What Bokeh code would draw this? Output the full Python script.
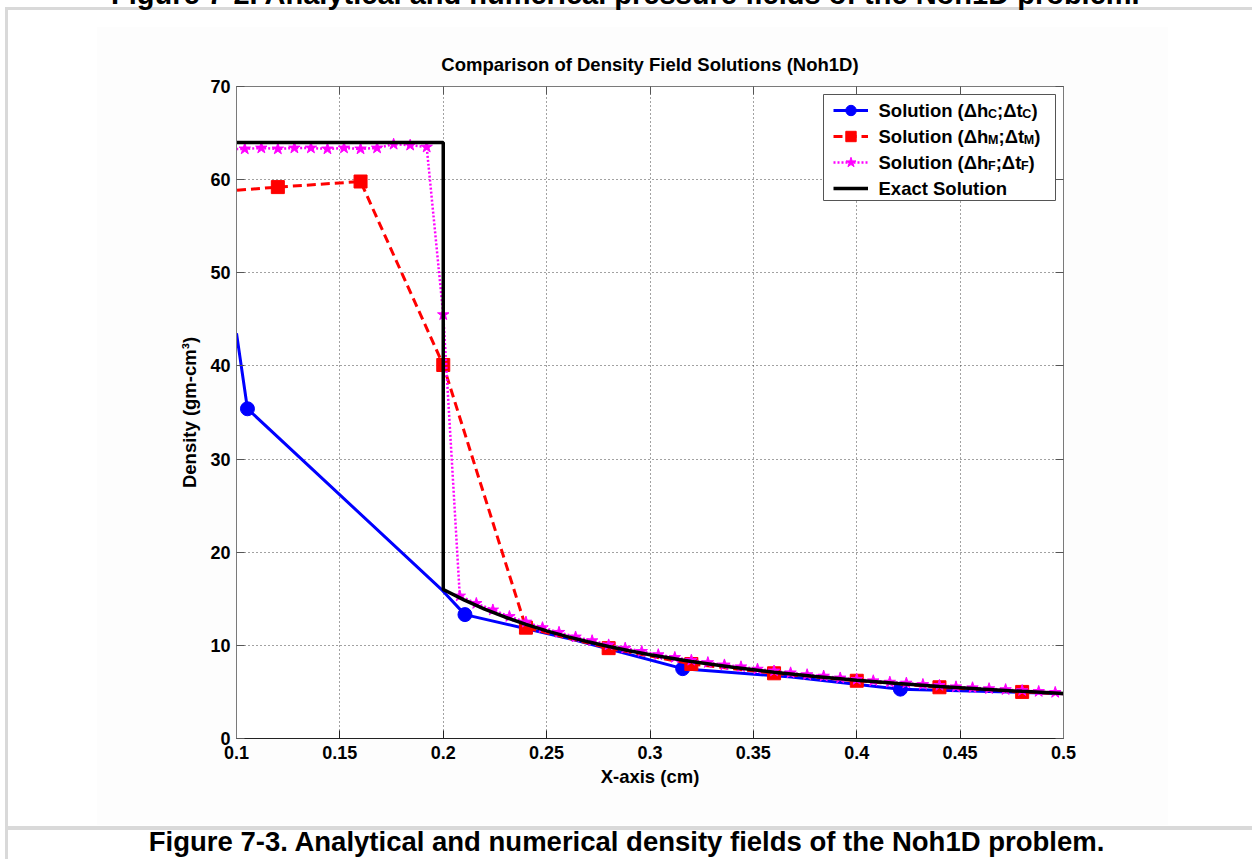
from bokeh.plotting import figure
from bokeh.models import (Range1d, FixedTicker, LinearAxis, Label, BoxAnnotation,
                          Legend, LegendItem, InlineStyleSheet)
from bokeh.embed import file_html
from bokeh.resources import INLINE

# ---------------- data ----------------
x_ticks = [0.1, 0.15, 0.2, 0.25, 0.3, 0.35, 0.4, 0.45, 0.5]
x_tick_labels = ["0.1", "0.15", "0.2", "0.25", "0.3", "0.35", "0.4", "0.45", "0.5"]
y_ticks = [0, 10, 20, 30, 40, 50, 60, 70]
y_tick_labels = ["0", "10", "20", "30", "40", "50", "60", "70"]

# coarse solution (blue, circles)
coarse_line_x = [0.1, 0.1053, 0.1996, 0.2105, 0.2632, 0.3158, 0.3684, 0.4211, 0.4737, 0.5]
coarse_line_y = [43.5, 35.4, 15.9, 13.3, 10.6, 7.5, 6.6, 5.3, 5.0, 4.8]
coarse_mark_x = [0.1053, 0.2105, 0.3158, 0.4211]
coarse_mark_y = [35.4, 13.3, 7.5, 5.3]

# medium solution (red, squares)
medium_x = [0.08, 0.12, 0.16, 0.20, 0.24, 0.28, 0.32, 0.36, 0.40, 0.44, 0.48, 0.52]
medium_y = [58.5, 59.2, 59.8, 40.1, 11.9, 9.7, 8.0, 7.0, 6.2, 5.5, 5.0, 4.6]

# fine solution (magenta, stars)
fine_x = [0.096, 0.104, 0.112, 0.120, 0.128, 0.136, 0.144, 0.152, 0.160, 0.168,
          0.176, 0.184, 0.192, 0.200, 0.208, 0.216, 0.224, 0.232, 0.240, 0.248,
          0.256, 0.264, 0.272, 0.280, 0.288, 0.296, 0.304, 0.312, 0.320, 0.328,
          0.336, 0.344, 0.352, 0.360, 0.368, 0.376, 0.384, 0.392, 0.400, 0.408,
          0.416, 0.424, 0.432, 0.440, 0.448, 0.456, 0.464, 0.472, 0.480, 0.488,
          0.496, 0.504]
fine_y = [63.3, 63.3, 63.4, 63.3, 63.4, 63.4, 63.3, 63.4, 63.3, 63.4,
          63.8, 63.7, 63.5, 45.5, 15.3, 14.5, 13.8, 13.1, 12.5, 11.9,
          11.4, 10.9, 10.5, 10.05, 9.7, 9.35, 9.0, 8.7, 8.4, 8.15,
          7.9, 7.7, 7.45, 7.25, 7.05, 6.85, 6.7, 6.5, 6.35, 6.2,
          6.05, 5.95, 5.8, 5.7, 5.55, 5.45, 5.35, 5.25, 5.15, 5.05,
          4.95, 4.85]

# exact solution (black)
exact_x = [0.1, 0.2, 0.2, 0.21, 0.22, 0.23, 0.24, 0.25, 0.26, 0.27, 0.28, 0.29,
           0.30, 0.32, 0.34, 0.36, 0.38, 0.40, 0.42, 0.44, 0.46, 0.48, 0.50]
exact_y = [64.0, 64.0, 16.0, 14.88, 13.89, 13.02, 12.25, 11.56, 10.94, 10.38, 9.88, 9.42,
           9.00, 8.27, 7.64, 7.11, 6.65, 6.25, 5.90, 5.59, 5.31, 5.06, 4.84]

series_labels = [("Solution (\u0394h", "C", ";\u0394t", "C", ")"),
                 ("Solution (\u0394h", "M", ";\u0394t", "M", ")"),
                 ("Solution (\u0394h", "F", ";\u0394t", "F", ")"),
                 ("Exact Solution",)]

title_text = "Comparison of Density Field Solutions (Noh1D)"
x_label = "X-axis (cm)"
y_label = "Density (gm-cm\u00b3)"
caption_top = "Figure 7-2. Analytical and numerical pressure fields of the Noh1D problem."
caption_bottom = "Figure 7-3. Analytical and numerical density fields of the Noh1D problem."

# ---------------- layout ----------------
W, H = 1252, 859
EX = 27                      # canvas starts EX px above the window (top caption is cut)
FL, FR, FT, FB = 236, 1063, 86, 738   # frame edges in window pixels
FONT = "Liberation Sans"
CAP_SHIFT = "\u00a0" * 6     # centres the captions on the page rather than on the frame

def sx(cx):
    return cx - FL

def sy(cy):
    return FB - cy

p = figure(width=W, height=H + EX, output_backend="svg", toolbar_location=None,
           x_range=Range1d(0.1, 0.5), y_range=Range1d(0, 70),
           min_border_left=FL, min_border_right=W - FR,
           min_border_top=FT + EX, min_border_bottom=H - FB)
p.background_fill_color = "white"
p.border_fill_color = None
p.outline_line_color = None
p.styles = {"position": "relative", "top": f"-{EX}px"}

# page decoration (grey frame bands and faint figure background) drawn behind the canvas
band = "linear-gradient(#d9d9d9,#d9d9d9)"
faint = "linear-gradient(#fdfdfd,#fdfdfd)"
css = (":host { background-color: white;"
       f" background-image: {band}, {band}, {band}, {faint};"
       " background-repeat: no-repeat;"
       f" background-size: {W-5}px 3px, 3px {H-7}px, {W-5}px 4px, 1071px 798px;"
       f" background-position: 5px {7+EX}px, 5px {7+EX}px, 5px {826+EX}px, 97px {27+EX}px; }}")
p.stylesheets = [InlineStyleSheet(css=css)]

xt = FixedTicker(ticks=x_ticks)
yt = FixedTicker(ticks=y_ticks)

top_ax = LinearAxis()
right_ax = LinearAxis()
p.add_layout(top_ax, "above")
p.add_layout(right_ax, "right")

bottom_ax = p.below[0]
left_ax = p.left[0]

for ax, t, labs in [(bottom_ax, xt, x_tick_labels), (left_ax, yt, y_tick_labels),
                    (top_ax, xt, None), (right_ax, yt, None)]:
    ax.ticker = t
    ax.major_tick_in = 8
    ax.major_tick_out = 0
    ax.minor_tick_in = 0
    ax.minor_tick_out = 0
    ax.major_label_text_font = FONT
    ax.major_label_text_font_style = "bold"
    ax.major_label_text_font_size = "18px"
    ax.major_label_text_color = "black"
    if labs is not None:
        ax.major_label_overrides = dict(zip(t.ticks, labs))
    else:
        ax.major_label_overrides = {v: "" for v in t.ticks}

bottom_ax.axis_line_color = "#222222"
bottom_ax.major_tick_line_color = "#222222"
for ax in (left_ax, top_ax, right_ax):
    ax.axis_line_color = "#7a7a7a"
    ax.major_tick_line_color = "#555555"

bottom_ax.major_label_standoff = 7
left_ax.major_label_standoff = 6

bottom_ax.axis_label = x_label
left_ax.axis_label = y_label
for ax in (bottom_ax, left_ax):
    ax.axis_label_text_font = FONT
    ax.axis_label_text_font_style = "bold"
    ax.axis_label_text_font_size = "18.5px"
    ax.axis_label_text_color = "black"
bottom_ax.axis_label_standoff = 4
left_ax.axis_label_standoff = 7

# chart title carried by the top axis
top_ax.major_label_text_font_size = "0px"
top_ax.major_label_standoff = 0
top_ax.axis_label = title_text
top_ax.axis_label_standoff = 12
top_ax.axis_label_text_font = FONT
top_ax.axis_label_text_font_style = "bold"
top_ax.axis_label_text_font_size = "18.5px"
top_ax.axis_label_text_color = "black"

# figure captions carried by bare extra axes (below and above)
def caption_axis(text, standoff, size):
    return LinearAxis(ticker=FixedTicker(ticks=[]), axis_line_color=None,
                      major_tick_in=0, major_tick_out=0, minor_tick_in=0, minor_tick_out=0,
                      major_label_standoff=0, major_label_text_font_size="0px",
                      axis_label_standoff=standoff, axis_label=text + CAP_SHIFT,
                      axis_label_text_font=FONT, axis_label_text_font_style="bold",
                      axis_label_text_font_size=size, axis_label_text_color="black")

p.add_layout(caption_axis(caption_bottom, 36, "27.5px"), "below")
p.add_layout(caption_axis(caption_top, 41, "29px"), "above")

p.xgrid.ticker = xt
p.ygrid.ticker = yt
for g in (p.xgrid, p.ygrid):
    g.grid_line_color = "#444444"
    g.grid_line_dash = "1 3"
    g.grid_line_width = 1

# ---------------- series ----------------
bl = p.line(coarse_line_x, coarse_line_y, line_color="#0000ff", line_width=3)
bm = p.scatter(coarse_mark_x, coarse_mark_y, marker="circle", size=14,
               fill_color="#0000ff", line_color="#0000ff")
rl = p.line(medium_x, medium_y, line_color="#ff0000", line_width=3, line_dash="9 5")
rm = p.scatter(medium_x, medium_y, marker="square", size=13,
               fill_color="#ff0000", line_color="#ff0000")
ml = p.line(fine_x, fine_y, line_color="#ff00ff", line_width=2.5, line_dash="2 2")
mm = p.scatter(fine_x, fine_y, marker="star", size=12,
               fill_color="#ff00ff", line_color="#ff00ff")
kl = p.line(exact_x, exact_y, line_color="black", line_width=3.5)

# ---------------- legend ----------------
LB_L, LB_R, LB_T, LB_B = 823, 1055, 94, 200
p.add_layout(BoxAnnotation(left=sx(LB_L), right=sx(LB_R), top=sy(LB_T), bottom=sy(LB_B),
                           left_units="screen", right_units="screen",
                           top_units="screen", bottom_units="screen",
                           fill_color="white", fill_alpha=1.0,
                           line_color="#555555", line_width=1, line_alpha=1.0), "center")

ROW0, PITCH = 110, 26
leg_top = ROW0 - PITCH / 2
leg_bottom = leg_top + 4 * PITCH
legend = Legend(items=[LegendItem(label=" ", renderers=[bl, bm]),
                       LegendItem(label=" ", renderers=[rl, rm]),
                       LegendItem(label=" ", renderers=[ml, mm]),
                       LegendItem(label=" ", renderers=[kl])],
                location=(sx(833), sy(leg_bottom)), orientation="vertical",
                glyph_width=35, glyph_height=PITCH, label_height=PITCH, label_width=1,
                spacing=0, padding=0, margin=0, label_standoff=0,
                border_line_color=None, background_fill_alpha=0,
                label_text_font_size="6px")
p.add_layout(legend, "center")

AW = {'S': 667, 'o': 611, 'l': 278, 'u': 611, 't': 333, 'i': 278, 'n': 611, ' ': 278,
      '(': 333, ')': 333, 'h': 611, ';': 333, '\u0394': 700, 'C': 722, 'M': 833,
      'F': 611, 'E': 667, 'x': 556, 'a': 556, 'c': 556}

def tw(s, size):
    return sum(AW.get(c, 600) for c in s) * size / 1000.0

MAIN, SUB = 18.5, 12.5
for i, parts in enumerate(series_labels):
    base = ROW0 + i * PITCH - 0.5
    cx = 878
    for j, part in enumerate(parts):
        is_sub = (j % 2 == 1)
        size = SUB if is_sub else MAIN
        p.add_layout(Label(x=sx(cx), y=sy(base + (4 if is_sub else 0)),
                           x_units="screen", y_units="screen", text=part,
                           text_font=FONT, text_font_style="bold",
                           text_font_size=f"{size}px", text_color="black",
                           text_align="left", text_baseline="alphabetic"))
        cx += tw(part, size)

open("out.html", "w").write(file_html(p, INLINE))
